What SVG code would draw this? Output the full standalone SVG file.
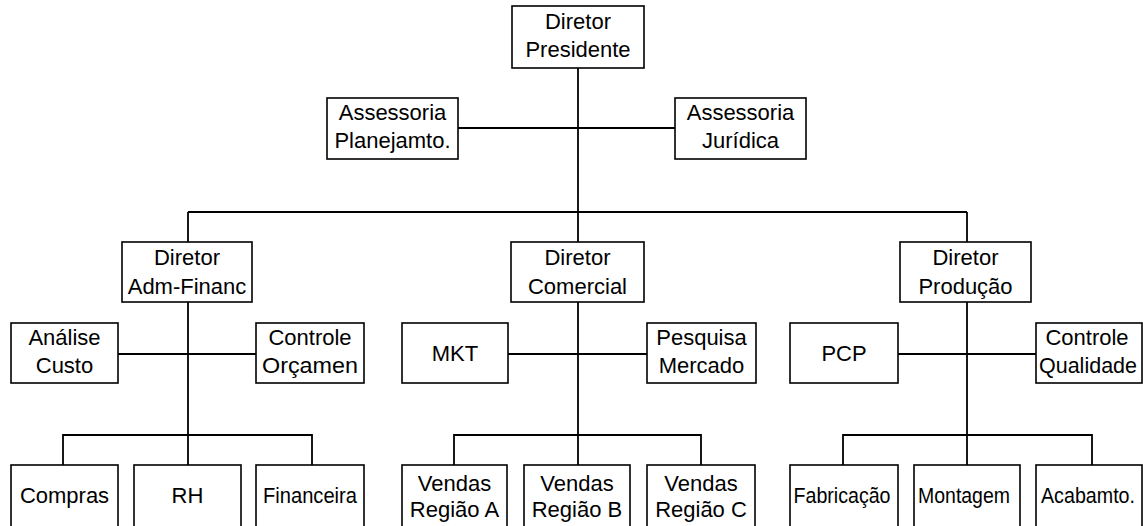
<svg xmlns="http://www.w3.org/2000/svg" width="1143" height="526" viewBox="0 0 1143 526">
  <style>
    .box { fill: #ffffff; stroke: #000000; stroke-width: 1.6; }
    .lbl { font-family: "Liberation Sans", Arial, sans-serif; font-size: 22px; fill: #000000; text-anchor: middle; }
    .conn { fill: none; stroke: #000000; stroke-width: 1.8; }
  </style>
  <rect width="1143" height="526" fill="#ffffff"/>

  <!-- connectors -->
  <g id="connectors" class="conn">
    <!-- top level -->
    <path d="M578 68 V212"/>
    <path d="M458 128 H675"/>
    <path d="M188 212 H967"/>
    <path d="M188 212 V242 M578 212 V242 M967 212 V242"/>
    <!-- director branches -->
    <path d="M188 302 V435 M118 354 H256"/>
    <path d="M578 302 V435 M508 354 H647"/>
    <path d="M967 302 V435 M898 354 H1036"/>
    <!-- department buses -->
    <path d="M63 465 V435 H312 V465 M188 435 V465"/>
    <path d="M454 465 V435 H701 V465 M578 435 V465"/>
    <path d="M843 465 V435 H1092 V465 M967 435 V465"/>
  </g>

  <g id="diretor-presidente">
    <rect class="box" x="512" y="6" width="132" height="62"/>
    <text class="lbl" x="578" y="28.5">Diretor</text>
    <text class="lbl" x="578" y="56.5">Presidente</text>
  </g>
  <g id="assessoria-planejamento">
    <rect class="box" x="327" y="98" width="131" height="61"/>
    <text class="lbl" x="392.5" y="120">Assessoria</text>
    <text class="lbl" x="392.5" y="148">Planejamto.</text>
  </g>
  <g id="assessoria-juridica">
    <rect class="box" x="675" y="98" width="131" height="61"/>
    <text class="lbl" x="740.5" y="120">Assessoria</text>
    <text class="lbl" x="740.5" y="148">Jurídica</text>
  </g>

  <g id="diretor-adm-financ">
    <rect class="box" x="122" y="242" width="130" height="60"/>
    <text class="lbl" x="187" y="265">Diretor</text>
    <text class="lbl" x="187" y="294">Adm-Financ</text>
  </g>
  <g id="diretor-comercial">
    <rect class="box" x="511" y="242" width="133" height="60"/>
    <text class="lbl" x="577.5" y="265">Diretor</text>
    <text class="lbl" x="577.5" y="294">Comercial</text>
  </g>
  <g id="diretor-producao">
    <rect class="box" x="900" y="242" width="131" height="60"/>
    <text class="lbl" x="965.5" y="265">Diretor</text>
    <text class="lbl" x="965.5" y="294">Produção</text>
  </g>

  <g id="analise-custo">
    <rect class="box" x="11" y="323" width="107" height="60"/>
    <text class="lbl" x="64.5" y="345">Análise</text>
    <text class="lbl" x="64.5" y="373">Custo</text>
  </g>
  <g id="controle-orcamento">
    <rect class="box" x="256" y="323" width="108" height="60"/>
    <text class="lbl" x="310" y="345">Controle</text>
    <text class="lbl" x="310" y="373" textLength="96" lengthAdjust="spacingAndGlyphs">Orçamen</text>
  </g>
  <g id="mkt">
    <rect class="box" x="402" y="323" width="106" height="60"/>
    <text class="lbl" x="455" y="361">MKT</text>
  </g>
  <g id="pesquisa-mercado">
    <rect class="box" x="647" y="323" width="109" height="60"/>
    <text class="lbl" x="701.5" y="345">Pesquisa</text>
    <text class="lbl" x="701.5" y="373">Mercado</text>
  </g>
  <g id="pcp">
    <rect class="box" x="790" y="323" width="108" height="60"/>
    <text class="lbl" x="844" y="361">PCP</text>
  </g>
  <g id="controle-qualidade">
    <rect class="box" x="1036" y="323" width="106" height="60"/>
    <text class="lbl" x="1087" y="345">Controle</text>
    <text class="lbl" x="1088" y="373" textLength="98" lengthAdjust="spacingAndGlyphs">Qualidade</text>
  </g>

  <g id="compras">
    <rect class="box" x="11" y="465" width="107" height="70"/>
    <text class="lbl" x="64.5" y="503">Compras</text>
  </g>
  <g id="rh">
    <rect class="box" x="134" y="465" width="107" height="70"/>
    <text class="lbl" x="187.5" y="503">RH</text>
  </g>
  <g id="financeira">
    <rect class="box" x="256" y="465" width="108" height="70"/>
    <text class="lbl" x="310" y="503" textLength="94" lengthAdjust="spacingAndGlyphs">Financeira</text>
  </g>
  <g id="vendas-regiao-a">
    <rect class="box" x="402" y="465" width="105" height="70"/>
    <text class="lbl" x="454.5" y="491">Vendas</text>
    <text class="lbl" x="454.5" y="517">Região A</text>
  </g>
  <g id="vendas-regiao-b">
    <rect class="box" x="524" y="465" width="106" height="70"/>
    <text class="lbl" x="577" y="491">Vendas</text>
    <text class="lbl" x="577" y="517">Região B</text>
  </g>
  <g id="vendas-regiao-c">
    <rect class="box" x="647" y="465" width="108" height="70"/>
    <text class="lbl" x="701" y="491">Vendas</text>
    <text class="lbl" x="701" y="517">Região C</text>
  </g>
  <g id="fabricacao">
    <rect class="box" x="790" y="465" width="108" height="70"/>
    <text class="lbl" x="842" y="503" textLength="97" lengthAdjust="spacingAndGlyphs">Fabricação</text>
  </g>
  <g id="montagem">
    <rect class="box" x="914" y="465" width="106" height="70"/>
    <text class="lbl" x="964" y="503" textLength="92" lengthAdjust="spacingAndGlyphs">Montagem</text>
  </g>
  <g id="acabamento">
    <rect class="box" x="1036" y="465" width="106" height="70"/>
    <text class="lbl" x="1088" y="503" textLength="94" lengthAdjust="spacingAndGlyphs">Acabamto.</text>
  </g>
</svg>
